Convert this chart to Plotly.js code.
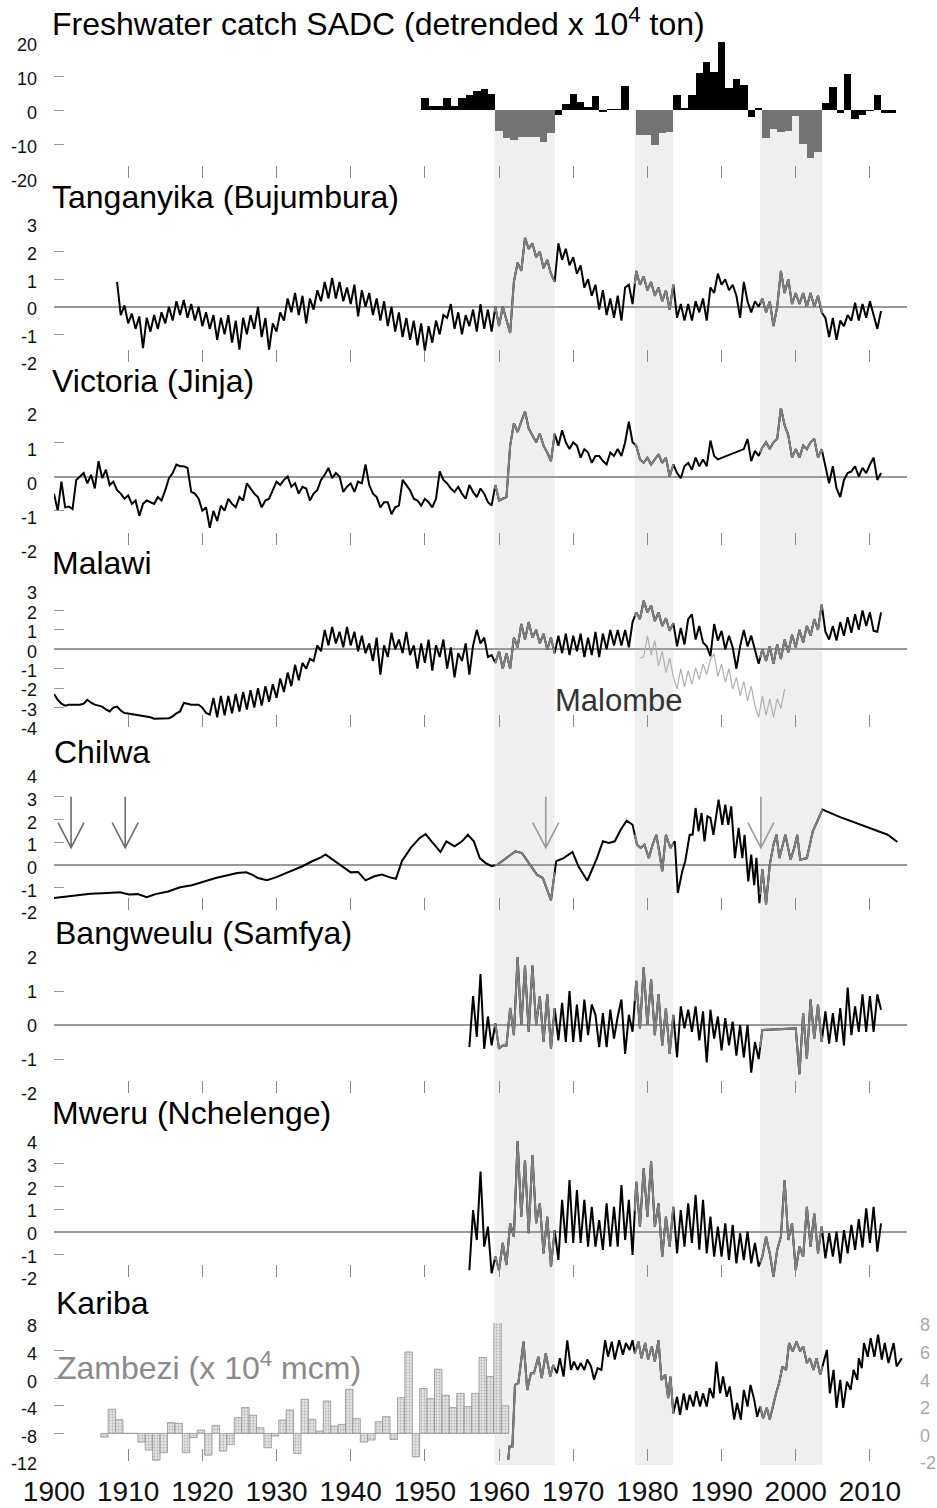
<!DOCTYPE html>
<html>
<head>
<meta charset="utf-8">
<script src="https://cdn.plot.ly/plotly-3.0.1.min.js"></script>
<style>html,body{margin:0;padding:0;background:#fff}#chart{width:937px;height:1508px}</style>
</head>
<body>
<div id="chart"></div>
<script>
// ---------------- DATA ----------------
const bands = [[1959.4, 1967.5], [1978.3, 1983.5], [1995.2, 2003.6]];
const decadeTicks = [1900, 1910, 1920, 1930, 1940, 1950, 1960, 1970, 1980, 1990, 2000, 2010];
const decadeLabels = ['1900', '1910', '1920', '1930', '1940', '1950', '1960', '1970', '1980', '1990', '2000', '2010'];

// Freshwater catch SADC (detrended, x 10^4 ton), annual
const catchYears = [1950,1951,1952,1953,1954,1955,1956,1957,1958,1959,1960,1961,1962,1963,1964,1965,1966,1967,1968,1969,1970,1971,1972,1973,1974,1975,1976,1977,1978,1979,1980,1981,1982,1983,1984,1985,1986,1987,1988,1989,1990,1991,1992,1993,1994,1995,1996,1997,1998,1999,2000,2001,2002,2003,2004,2005,2006,2007,2008,2009,2010,2011,2012,2013];
const catchVals = [3.6,1.3,1.3,3.6,1.3,3.6,4.4,5.7,6.1,4.6,
  -6.1,-8.3,-8.8,-8.0,-8.0,-7.8,-9.3,-6.7,
  -1.5,1.7,4.6,2.5,1.0,4.0,-0.5,0.2,0.3,7.0,0.1,
  -7.4,-7.4,-10.3,-6.7,-6.4,
  4.4,0.5,4.4,11.0,14.2,11.3,19.9,6.5,9.0,7.5,-2.2,0.5,
  -8.1,-5.6,-6.4,-6.1,-1.8,-10.0,-14.2,-12.3,
  2.2,6.7,-1.0,10.6,-2.6,-1.5,-0.2,4.4,-1.0,-1.0];

// Tanganyika (Bujumbura), half-yearly from 1908.5
const tangStart = 1908.5;
const tangVals = [0.9,
  -0.3,0.05, -0.6,-0.25, -0.8,-0.35, -1.5,-0.4, -0.9,-0.3, -0.8,-0.2, -0.6,0.0, -0.5,0.2, -0.3,0.25, -0.4,0.1, -0.5,0.0,
  -0.7,-0.2, -0.8,-0.3, -1.2,-0.4, -1.0,-0.3, -1.3,-0.5, -1.55,-0.4, -1.0,-0.3, -0.8,0.0, -1.1,-0.4, -1.55,-0.6,
  -0.9,-0.2, -0.5,0.3, -0.2,0.5, -0.3,0.4, -0.6,0.3, -0.1,0.6, 0.2,0.9, 0.3,1.05, 0.3,0.9, 0.2,0.7,
  0.1,0.8, -0.35,0.6, 0.0,0.5, -0.3,0.3, -0.5,0.2, -0.7,0.0, -0.9,-0.2, -1.1,-0.4, -1.2,-0.5, -1.4,-0.6,
  -1.6,-0.7, -1.3,-0.5, -1.0,-0.3, -0.4,0.1, -0.8,-0.2, -1.0,-0.3, -0.7,-0.1, -0.9,0.1, -0.8,-0.1, -0.9,0.0,
  -0.7,0.0, -0.5,-0.95, 0.9,1.6, 1.3,2.5, 2.1,2.3, 1.8,2.0, 1.4,1.7, 1.2,0.9,
  2.3,1.7, 2.1,1.5, 1.8,1.2, 1.5,0.7, 1.0,0.4, 0.8,-0.1, 0.6,-0.3, 0.3,-0.4, 0.4,-0.5, 0.7,0.8, 0.1,1.3,
  0.8,1.1, 0.6,0.9, 0.4,0.7, 0.2,0.6, -0.1,0.8, -0.4,0.1, -0.5,0.1, -0.5,0.2, -0.2,0.3, -0.5,0.7, 0.5,1.2,
  0.8,1.0, 0.6,0.8, 0.4,-0.4, 0.9,0.2, -0.2,0.2, 0.0,0.3, -0.2,0.2, -0.7,0.0, 1.3,0.5, 1.0,0.1,
  0.5,0.1, 0.5,0.0, 0.5,0.0, 0.4,-0.2, -0.4,-1.1, -0.4,-1.2, -0.5,-0.7, -0.3,-0.5, 0.15,-0.5, 0.1,-0.4,
  0.2,-0.3, -0.8,-0.15];

// Victoria (Jinja), half-yearly from 1900.0 (null = no reading)
const victStart = 1900.0;
const victVals = [-0.5,-1.0,-0.15,-0.9,-0.88,-0.95,-0.1,0.0,0.1,-0.2,
  0.05,-0.35,0.45,-0.05,0.2,-0.25,-0.15,-0.4,-0.5,-0.65,
  -0.55,-0.8,-0.7,-1.15,-0.8,-0.7,-0.75,-0.8,-0.6,-0.7,
  -0.4,-0.05,0.1,0.35,0.3,0.3,0.25,-0.45,-0.5,-0.65,
  -1.0,-0.9,-1.5,-1.0,-1.3,-0.85,-1.0,-0.65,-0.8,-0.9,
  -0.6,-0.7,-0.2,-0.35,-0.5,-0.6,-0.9,-0.7,-0.65,-0.4,
  -0.15,-0.25,-0.1,0.0,-0.3,-0.2,-0.5,-0.3,-0.35,-0.7,
  -0.5,-0.4,-0.1,0.05,0.25,-0.05,0.1,0.0,-0.45,-0.3,
  -0.2,-0.45,-0.15,-0.2,0.35,-0.25,-0.5,-0.6,-0.9,-0.75,
  -0.75,-1.1,-0.9,-0.85,-0.1,-0.25,-0.4,-0.65,-0.7,-0.85,
  -0.65,-0.75,-0.9,-0.65,0.15,-0.1,-0.2,-0.35,-0.45,-0.3,
  -0.5,-0.65,-0.25,-0.45,-0.6,-0.35,-0.5,-0.75,-0.85,-0.25,
  -0.7,-0.65,-0.6,0.9,1.55,1.3,1.6,1.9,1.4,1.2,
  1.0,1.25,0.9,0.7,0.45,1.25,0.9,1.35,1.0,0.8,
  1.0,0.9,0.55,0.8,0.7,0.4,0.6,0.6,0.45,0.35,
  0.7,0.6,0.8,0.6,1.0,1.6,1.0,0.9,0.5,0.4,
  0.55,0.35,0.5,0.65,0.4,0.55,0.0,0.35,0.1,-0.05,
  0.3,0.4,0.2,0.55,0.3,0.5,0.3,1.05,0.6,0.5,
  null,null,null,null,null,null,0.8,1.1,0.45,0.75,
  0.6,0.85,1.0,0.8,1.0,1.1,2.0,1.5,1.2,0.55,
  0.8,0.55,0.9,0.8,1.0,1.1,0.55,0.8,0.3,-0.2,
  0.3,-0.35,-0.6,-0.1,0.1,0.15,0.3,0.0,0.25,0.1,
  0.35,0.55,-0.1,0.1];

// Malawi, half-yearly from 1900.0
const malawiStart = 1900.0;
const malawiVals = [-2.3,-2.6, -2.8,-2.9, -2.85,-2.85, -2.85,-2.85, -2.8,-2.6, -2.75,-2.85, -2.9,-2.95, -3.1,-3.2, -3.0,-2.95, -3.15,-3.28,
  -3.3,-3.33, -3.36,-3.4, -3.42,-3.45, -3.5,-3.57, -3.57,-3.57, -3.57,-3.55, -3.45,-3.3, -3.2,-2.76, -2.8,-2.85, -2.85,-2.85,
  -3.0,-3.28, -3.36,-2.5, -3.5,-2.4, -3.4,-2.4, -3.3,-2.3, -3.2,-2.2, -3.1,-2.1, -3.0,-2.0, -2.9,-1.9, -2.7,-1.8,
  -2.5,-1.5, -2.2,-1.2, -1.9,-0.8, -1.6,-0.7, -1.0,-0.5, -0.6,0.2, -0.1,1.0, 0.2,1.15, 0.3,0.9, 0.1,1.15,
  0.2,0.9, -0.1,0.7, -0.2,0.3, -0.6,0.6, -1.3,0.2, -0.4,0.85, 0.0,0.5, -0.2,0.9, -0.3,0.2, -1.0,0.3,
  -0.7,0.5, -1.1,0.2, -0.4,0.5, -1.0,0.1, -1.45,-0.2, -0.6,0.3, -1.3,0.2, 1.0,0.3, 0.6,-0.4, -0.3,-0.7,
  -0.1,-1.0, -0.2,-1.0, 0.6,0.1, 1.3,0.5, 1.4,0.6, 1.0,0.3, 0.8,0.0, 0.6,-0.2, 0.7,-0.2, 0.8,-0.3,
  0.7,-0.1, 0.8,-0.4, 0.6,-0.3, 0.9,-0.4, 0.8,0.0, 1.0,0.2, 1.0,0.2, 1.0,0.1, 1.4,1.9, 1.55,2.5,
  1.9,2.25, 1.45,1.9, 1.2,1.6, 0.95,1.35, 0.15,1.1, 0.25,1.55, 1.8,0.5, 1.2,0.35, 0.15,-0.35, 1.3,0.45,
  0.95,0.0, 0.7,0.1, -1.0,0.15, 1.0,0.15, 0.7,0.0, -0.75,0.0, -0.6,0.15, -0.75,0.25, -0.5,0.5, -0.15,0.75,
  0.1,1.0, 0.35,1.2, 0.7,1.55, 1.0,2.3, 0.9,0.5, 1.2,0.45, 1.4,0.7, 1.65,0.85, 1.8,1.0, 2.0,1.2,
  1.9,0.95, 0.9,1.9];

// Malombe, half-yearly from 1979.0
const malombeStart = 1979.0;
const malombeVals = [-0.45,-0.4,0.7,-0.3,0.45,-0.85,-0.1,-1.2,-0.45,-1.4,
  -2.05,-1.0,-1.95,-1.1,-1.8,-0.95,-1.55,-0.75,-1.3,-0.5,
  -0.25,-1.4,-0.75,-1.7,-1.0,-2.05,-1.45,-2.4,-1.65,-2.65,
  -1.9,-2.9,-3.5,-2.4,-3.4,-2.55,-3.5,-2.55,-3.05,-2.05];

// Chilwa (irregular readings)
const chilwaYears = [1899.9,1901.6,1903.2,1904.9,1906.5,1908.9,1910.1,1911.3,1912.5,1913.7,1915.4,1917,1918.6,1920.2,1921.8,1923.4,1924.7,1925.9,1926.7,1927.5,1928.7,1929.9,1931.1,1932.3,1933.5,1934.8,1936,1936.6,1937.6,1938.8,1940,1941,1942,1943.2,1944.2,1945.3,1946.1,1946.9,1948.1,1949.3,1950.1,1950.9,1952.1,1952.9,1954,1955,1955.8,1956.6,1957.4,1958.2,1959,1959.8,1961,1962.2,1963.1,1963.9,1965.1,1965.9,1967,1967.7,1968.7,1969.9,1970.7,1971.9,1973.2,1974,1974.8,1975.6,1976.4,1977.2,1978,1978.6,1979.1,1979.6,1980.2,1980.7,1981.2,1981.6,1982,1982.5,1983.1,1983.7,1984.1,1984.7,1985.1,1985.7,1986.1,1986.5,1986.9,1987.3,1987.7,1988.1,1988.5,1988.9,1989.6,1990.1,1990.5,1990.9,1991.3,1991.8,1992.3,1992.8,1993.1,1993.6,1994,1994.4,1994.7,1995.1,1995.5,1996,1996.5,1997,1997.4,1997.8,1998.6,1999.3,1999.8,2000.2,2000.6,2001.5,2002.3,2003.1,2003.6,2006,2008,2010,2012.4,2013.7];
const chilwaVals = [-1.47,-1.4,-1.32,-1.28,-1.26,-1.22,-1.32,-1.3,-1.43,-1.3,-1.18,-1.0,-0.91,-0.74,-0.59,-0.47,-0.37,-0.34,-0.44,-0.59,-0.69,-0.56,-0.4,-0.22,-0.07,0.15,0.32,0.45,0.22,-0.07,-0.34,-0.32,-0.69,-0.51,-0.44,-0.56,-0.62,0.15,0.74,1.18,1.35,1.03,0.56,1.03,0.81,1.03,1.32,1.03,0.29,0.07,-0.07,0.0,0.29,0.59,0.51,0.15,-0.44,-0.59,-1.57,0.15,0.29,0.56,-0.07,-0.71,0.29,1.03,0.96,1.03,1.54,1.94,1.76,0.88,0.74,0.88,0.29,0.88,1.32,0.59,-0.29,1.32,0.74,1.03,-1.25,-0.29,0.15,1.32,1.32,2.5,1.47,2.28,1.03,2.13,2.06,1.32,2.87,1.76,2.65,1.76,2.57,0.29,1.62,0.29,1.32,-0.74,0.44,-0.9,0.3,-1.7,-0.2,-1.75,0.0,0.88,1.32,0.29,1.32,0.22,0.74,1.32,0.22,0.29,1.47,2.06,2.43,2.1,1.85,1.6,1.32,1.0];
const chilwaArrowYears = [1902.3, 1909.6, 1966.3, 1995.3];

// Bangweulu (Samfya), half-yearly from 1956.0
const bangStart = 1956.0;
const bangVals = [-0.65,0.85, -0.35,1.5, -0.7,0.25, -0.6,0.05, -0.7,-0.6, -0.6,0.5, -0.3,2.0, 0.0,1.75, -0.2,1.75, 0.0,0.85,
  -0.5,0.9, -0.7,0.5, -0.45,0.65, -0.5,1.0, -0.5,0.6, -0.5,0.75, -0.3,0.6, 0.3,-0.65, 0.35,-0.65, 0.45,-0.4,
  0.25,0.75, -0.85,0.3, -0.2,1.3, -0.1,1.7, 0.0,1.35, -0.3,0.9, -0.6,0.5, -0.85,0.3, -0.95,0.55, -0.1,0.45,
  -0.2,0.55, -0.45,0.4, -1.1,0.45, -0.4,0.25, -0.75,0.2, -0.6,0.1, -0.9,0.0, -0.95,0.0, -1.4,-0.5, -1.0,-0.15,
  null,null, null,null, null,null, null,null, -0.1,-1.45, 0.35,-1.0, 0.75,-0.4, 0.6,-0.5, 0.4,-0.55, 0.35,-0.5,
  0.5,-0.6, 1.1,-0.3, 0.55,-0.2, 0.9,-0.2, 0.85,-0.2, 0.9,0.45];

// Mweru (Nchelenge), half-yearly from 1956.0
const mweruStart = 1956.0;
const mweruVals = [-1.7,0.95, -0.37,2.65, -0.66,0.22, -1.84,-1.1, -1.7,-0.5, -1.47,0.37, -0.22,4.0, 0.66,3.16, -0.07,3.38, 0.37,1.25,
  -0.96,0.66, -1.54,0.07, -1.25,1.4, -0.5,2.28, -0.5,1.84, -0.5,1.4, -0.66,1.1, -0.66,0.51, -0.8,1.25, -0.66,1.1,
  -0.66,2.06, -0.37,1.4, -1.03,2.2, 0.22,2.8, 0.66,3.1, 0.22,1.25, -1.1,0.66, -0.66,1.1, -0.96,0.95, -0.66,1.25,
  -0.5,1.62, -0.8,1.4, -0.96,0.66, -1.1,0.22, -1.1,0.37, -1.25,0.3, -1.4,-0.07, -1.25,0.0, -1.4,-0.5, -1.54,-1.1,
  -0.22,-0.96, -1.99,-0.8, -0.22,2.28, -0.37,0.37, -1.7,-0.66, -1.1,1.1, -0.66,0.8, -0.96,0.22, -1.18,-0.07, -1.1,0.0,
  -1.4,0.07, -0.96,0.3, -0.8,0.55, -0.7,1.03, -0.5,1.1, -0.88,0.37];

// Kariba (irregular readings)
const kariYears = [1961.25,1961.4,1961.8,1962.15,1962.6,1963.3,1963.8,1964.3,1964.7,1965.3,1965.75,1966.3,1966.9,1967.3,1967.8,1968.2,1968.7,1969.2,1969.7,1970.1,1970.6,1971,1971.5,1971.9,1972.4,1972.8,1973.3,1973.8,1974.3,1974.7,1975.2,1975.6,1976.2,1976.7,1977.1,1977.6,1978,1978.3,1978.8,1979.2,1979.7,1980.1,1980.6,1981,1981.5,1981.9,1982.4,1982.8,1983.1,1983.5,1984,1984.4,1984.9,1985.3,1985.7,1986.2,1986.6,1987.1,1987.5,1988,1988.4,1988.9,1989.3,1989.8,1990.2,1990.7,1991.1,1991.7,1992.1,1992.6,1993,1993.5,1993.9,1994.4,1994.8,1995.2,1995.6,1996.1,1996.5,1997,1997.3,1997.8,1998.2,1998.7,1999.1,1999.6,2000.1,2000.6,2001,2001.5,2001.9,2002.4,2002.8,2003.3,2003.7,2004.2,2004.6,2005.1,2005.5,2006,2006.4,2006.9,2007.4,2007.8,2008.3,2008.5,2008.9,2009.2,2009.7,2010.1,2010.6,2011.1,2011.6,2012,2012.5,2013.2,2013.6,2014.3];
const kariVals = [-11.8,-9.9,-9.9,-0.97,-0.7,5.3,-1.7,0.7,0.7,3.1,0,3.6,0.24,1.9,0.7,2.9,0.24,5.5,1.2,2.4,1.2,2.2,1.2,2.7,1.7,-0.2,1.45,1.2,5.5,3.1,5.3,2.7,5.5,3.4,5.1,4.1,5.5,3.6,5.3,2.9,5.1,2.7,4.6,2.4,5.5,-0.24,0.5,-2.9,0.24,-5.1,-2.7,-5.3,-2.2,-4.6,-2.4,-4.1,-1.9,-4.1,-2.2,-4.1,-1.45,-2.9,2.4,-2.2,0.24,-2.7,-1.2,-6.0,-3.6,-6.0,-1.7,-4.1,-0.97,-3.1,-5.6,-4.1,-5.8,-4.3,-6.0,-3.6,-2.4,-0.5,1.7,1.2,5.1,3.9,5.3,3.9,4.6,2.2,2.9,1.2,2.9,0.5,2.2,4.1,-2.2,1.2,-4.3,-0.24,-4.3,-0.5,-1.7,1.2,-0.24,2.9,1.45,5.1,3.1,5.8,3.1,6.3,2.7,5.1,2.2,5.1,1.7,2.9];

// Zambezi flow (x 10^4 mcm), annual bars, right axis
const zambYears = [1906,1907,1908,1909,1910,1911,1912,1913,1914,1915,1916,1917,1918,1919,1920,1921,1922,1923,1924,1925,1926,1927,1928,1929,1930,1931,1932,1933,1934,1935,1936,1937,1938,1939,1940,1941,1942,1943,1944,1945,1946,1947,1948,1949,1950,1951,1952,1953,1954,1955,1956,1957,1958,1959,1960];
const zambVals = [-0.27,1.75,1.0,0,0,-0.63,-1.2,-1.94,-1.4,0.78,0.73,-1.4,-0.3,0.24,-1.58,0.58,-1.28,-0.8,1.14,1.87,1.31,0.41,-1.04,-0.19,0.97,1.7,-1.45,2.47,1.02,0.17,2.35,0.53,0.65,3.2,1.07,-0.63,-0.48,0.85,1.21,-0.44,2.59,5.9,-1.7,3.25,2.52,4.65,2.76,1.87,2.9,1.94,2.9,5.5,4.12,8.05,2.0];

// Panel titles and axes
const panelTitles = ['Freshwater catch SADC (detrended x 10<sup>4</sup> ton)', 'Tanganyika (Bujumbura)', 'Victoria (Jinja)', 'Malawi', 'Chilwa', 'Bangweulu (Samfya)', 'Mweru (Nchelenge)', 'Kariba'];
const yRanges = [[-20,20],[-2,3],[-2,2],[-4,3],[-2,4],[-2,2],[-2,4],[-12,8]];
const yTicks = [[-20,-10,0,10,20],[-2,-1,0,1,2,3],[-2,-1,0,1,2],[-4,-3,-2,-1,0,1,2,3],[-2,-1,0,1,2,3,4],[-2,-1,0,1,2],[-2,-1,0,1,2,3,4],[-12,-8,-4,0,4,8]];
const rightTicks = [-2,0,2,4,6,8];

// ---------------- LAYOUT HELPERS ----------------
const H = 1508, W = 937;
const FONT = 'Liberation Sans, Arial, Helvetica, sans-serif';
const panelPx = [[42,178],[224,362],[408,545],[591,727],[774,910],[957,1093],[1141,1277],[1323,1461]];
const titlePx = [[50,22],[50,197],[50,381],[50,563],[52,752],[53,933],[50,1113],[54,1303]];
const labelShift = [3,2,7,2,3,1,2,3];
const plotL = 54, plotR = 907;
const dom = (t,b) => [1 - b/H, 1 - t/H];
const px2px = x => (x - plotL)/(plotR - plotL);
const hy = v => String(v).replace('\u2212','-');

function halfYears(start, n){ const a=[]; for(let i=0;i<n;i++) a.push(start + 0.5*i); return a; }
function clean(xs, ys){ const X=[],Y=[]; for(let i=0;i<xs.length;i++){ if(ys[i]!==null && ys[i]!==undefined){X.push(xs[i]);Y.push(ys[i]);} } return [X,Y]; }
function bandPart(xs, ys){
  const X=[],Y=[];
  bands.forEach(([a,b])=>{
    const sx=[],sy=[];
    for(let i=0;i<xs.length;i++){
      const x=xs[i], y=ys[i];
      if(i>0){ const x0=xs[i-1], y0=ys[i-1]; if(x0<a && x>a){ sx.push(a); sy.push(y0+(y-y0)*(a-x0)/(x-x0)); } }
      if(x>=a && x<=b){ sx.push(x); sy.push(y); }
      if(i>0){ const x0=xs[i-1], y0=ys[i-1]; if(x0<b && x>b){ sx.push(b); sy.push(y0+(y-y0)*(b-x0)/(x-x0)); } }
    }
    if(sx.length){ X.push(...sx, null); Y.push(...sy, null); }
  });
  return [X,Y];
}
const inBand = x => bands.some(([a,b]) => x>=a && x<=b);
function lineTraces(xs, ys, n){
  const [X,Y] = clean(xs, ys);
  const [GX,GY] = bandPart(X,Y);
  const xa = n===1 ? 'x' : 'x'+n, ya = n===1 ? 'y' : 'y'+n;
  return [
    {type:'scatter', mode:'lines', x:X, y:Y, xaxis:xa, yaxis:ya, line:{color:'#000', width:2}, hoverinfo:'skip', showlegend:false},
    {type:'scatter', mode:'lines', x:GX, y:GY, xaxis:xa, yaxis:ya, line:{color:'#7f7f7f', width:2}, hoverinfo:'skip', showlegend:false}
  ];
}

// ---------------- TRACES ----------------
const traces = [];
traces.push({type:'bar', x:catchYears, y:catchVals, width:1, xaxis:'x', yaxis:'y',
  marker:{color:catchYears.map(y => inBand(y) ? '#737373' : '#000'), line:{width:0}}, hoverinfo:'skip', showlegend:false});
traces.push(...lineTraces(halfYears(tangStart, tangVals.length), tangVals, 2));
traces.push(...lineTraces(halfYears(victStart, victVals.length), victVals, 3));
traces.push({type:'scatter', mode:'lines', x:halfYears(malombeStart, malombeVals.length), y:malombeVals, xaxis:'x4', yaxis:'y4',
  line:{color:'#b0b0b0', width:1.2}, hoverinfo:'skip', showlegend:false});
traces.push(...lineTraces(halfYears(malawiStart, malawiVals.length), malawiVals, 4));
traces.push(...lineTraces(chilwaYears, chilwaVals, 5));
traces.push(...lineTraces(halfYears(bangStart, bangVals.length), bangVals, 6));
traces.push(...lineTraces(halfYears(mweruStart, mweruVals.length), mweruVals, 7));
traces.push(...lineTraces(kariYears, kariVals, 8));
traces.push({type:'bar', x:zambYears, y:zambVals, width:1, offset:0.3, xaxis:'x8', yaxis:'y9',
  marker:{color:'#dedede', pattern:{shape:'.', fgcolor:'#b4b4b4', bgcolor:'#e4e4e4', size:3, solidity:0.3},
  line:{color:'#909090', width:0.8}}, hoverinfo:'skip', showlegend:false});

// ---------------- LAYOUT ----------------
const layout = {
  width: W, height: H,
  margin: {l: plotL, r: W - plotR, t: 0, b: 0},
  paper_bgcolor: '#fff', plot_bgcolor: 'rgba(0,0,0,0)',
  font: {family: FONT, color: '#111'},
  showlegend: false, bargap: 0,
  shapes: [], annotations: []
};
for(let i=1;i<=8;i++){
  const xs = i===1 ? 'xaxis' : 'xaxis'+i;
  const ys = i===1 ? 'yaxis' : 'yaxis'+i;
  layout[xs] = {domain:[0,1], range:[1900,2015], anchor: i===1?'y':'y'+i, showgrid:false, zeroline:false, showline:false,
    ticks:'inside', ticklen:12, tickwidth:1, tickcolor:'#888', tickmode:'array', tickvals:decadeTicks, ticktext:decadeLabels,
    showticklabels: i===8, tickfont:{size:28, color:'#111', family:FONT}, ticklabelstandoff: 11, fixedrange:true};
  layout[ys] = {domain: dom(panelPx[i-1][0], panelPx[i-1][1]), range: yRanges[i-1], anchor: i===1?'x':'x'+i,
    showgrid:false, showline:false, zeroline: (i>=2 && i<=7), zerolinecolor:'#9a9a9a', zerolinewidth:2,
    ticks:'inside', ticklen:10, tickwidth:1, tickcolor:'#999', tickmode:'array', tickvals:yTicks[i-1],
    ticktext: yTicks[i-1].map(v => v < 0 ? '-' + Math.abs(v) : String(v)),
    tickfont:{size:18, color:'#111', family:FONT}, ticklabelstandoff: 16, ticklabelshift: labelShift[i-1], fixedrange:true};
}
layout.yaxis9 = {overlaying:'y8', side:'right', anchor:'x8', range:[-2,8], showgrid:false, zeroline:false, showline:false,
  ticks:'', tickmode:'array', tickvals:rightTicks, ticktext: rightTicks.map(v => v < 0 ? '-' + Math.abs(v) : String(v)),
  tickfont:{size:18, color:'#a8a8a8', family:FONT}, ticklabelstandoff: 12, ticklabelshift: 2, fixedrange:true};

// grey bands
bands.forEach(([a,b]) => layout.shapes.push({type:'rect', xref:'x', yref:'paper', x0:a, x1:b,
  y0: 1 - 1465/H, y1: 1 - 110/H, fillcolor:'#efefef', line:{width:0}, layer:'below'}));
// Chilwa arrows
chilwaArrowYears.forEach((yr, k) => layout.shapes.push({type:'path', xref:'x5', yref:'y5',
  path:`M ${yr},3.0 L ${yr},0.75 M ${yr-1.75},1.85 L ${yr},0.75 L ${yr+1.75},1.85`,
  line:{color: k<2 ? '#6e6e6e' : '#9a9a9a', width:1.6}, layer:'above'}));

// titles
panelTitles.forEach((t, k) => layout.annotations.push({text:t, xref:'paper', yref:'paper',
  x: px2px(titlePx[k][0]), y: 1 - titlePx[k][1]/H, xanchor:'left', yanchor:'middle', showarrow:false,
  font:{size:32, color:'#000', family:FONT}}));
layout.annotations.push({text:'Zambezi (x 10<sup>4</sup> mcm)', xref:'paper', yref:'paper', x: px2px(55), y: 1 - 1366/H,
  xanchor:'left', yanchor:'middle', showarrow:false, font:{size:32, color:'#8a8a8a', family:FONT}});
layout.annotations.push({text:'Malombe', xref:'paper', yref:'paper', x: px2px(553), y: 1 - 700/H,
  xanchor:'left', yanchor:'middle', showarrow:false, font:{size:31, color:'#333', family:FONT}});

Plotly.newPlot('chart', traces, layout, {displayModeBar:false, staticPlot:true});
</script>
</body>
</html>
